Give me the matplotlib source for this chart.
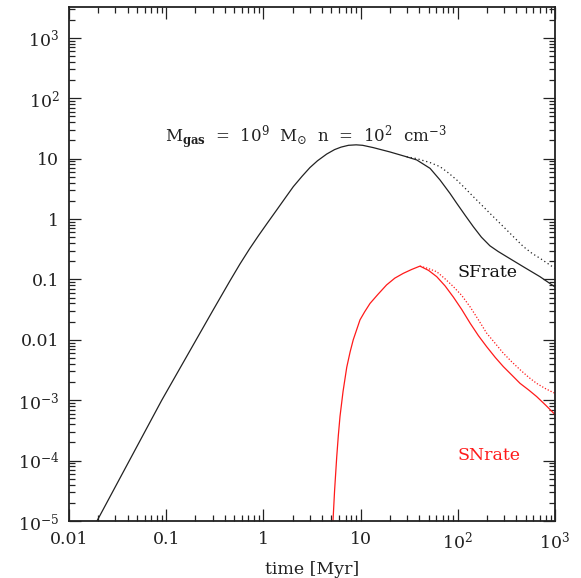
import matplotlib
matplotlib.use('Agg')
import matplotlib.pyplot as plt
from matplotlib.ticker import FixedLocator, FixedFormatter, LogLocator, NullFormatter

plt.rcParams['font.family'] = 'DejaVu Serif'
plt.rcParams['mathtext.fontset'] = 'dejavuserif'

# star formation rate (solid, and dotted variant)
sf_t = [0.0194, 0.09, 0.3, 0.45, 0.574, 0.72, 0.89, 1.1, 1.37, 1.65, 2.03, 2.5, 3.01,
        3.6, 4.48, 5.4, 6.3, 7.5, 9.0, 10.5, 13.5, 20.0, 29.8, 37.8, 51.8, 65.6,
        83.0, 97.5, 120, 144.5, 175, 214, 260, 318, 472, 700, 1000]
sf_y = [1e-5, 1e-3, 0.030, 0.093, 0.18, 0.32, 0.53, 0.86, 1.41, 2.15, 3.43, 5.1,
        7.1, 9.2, 11.9, 14.1, 15.5, 16.6, 16.9, 16.6, 15.2, 12.9, 10.7, 9.5, 6.9,
        4.43, 2.66, 1.82, 1.13, 0.745, 0.50, 0.36, 0.29, 0.238, 0.162, 0.111, 0.075]
sf2_t = [29.8, 37.8, 51.8, 65.6, 80, 97.5, 120, 144.5, 175, 214, 260, 318, 380,
         472, 580, 700, 1000]
sf2_y = [10.7, 10.0, 8.6, 7.35, 5.8, 4.43, 3.18, 2.34, 1.72, 1.24, 0.91, 0.66, 0.495,
         0.35, 0.27, 0.224, 0.152]

# supernova rate (solid, and dotted variant)
sn_t = [5.2, 5.4, 5.68, 5.9, 6.14, 6.6, 7.2, 7.8, 8.4, 9.86, 11, 12.5, 15, 18.5,
        22.5, 27.5, 33.5, 40.8, 50, 60.7, 74, 90, 110, 134, 163, 198, 243, 294,
        360, 437, 535, 647, 800, 1000]
sn_y = [1e-5, 3.2e-5, 1.15e-4, 2.6e-4, 5.4e-4, 1.4e-3, 3.5e-3, 6.3e-3, 0.010,
        0.0214, 0.029, 0.040, 0.056, 0.081, 0.105, 0.126, 0.146, 0.166, 0.141,
        0.111, 0.078, 0.051, 0.0316, 0.0188, 0.0117, 0.0077, 0.0051, 0.0036,
        0.0026, 0.0019, 0.00148, 0.00115, 0.00083, 0.00058]
sn2_t = [40.8, 50, 60.7, 74, 90, 110, 134, 163, 198, 243, 294, 360, 437, 535, 647,
         800, 1000]
sn2_y = [0.166, 0.151, 0.134, 0.102, 0.076, 0.054, 0.035, 0.0214, 0.0129, 0.0087,
         0.006, 0.0043, 0.0032, 0.0024, 0.0019, 0.00155, 0.0013]

yticks = [1e-5, 1e-4, 1e-3, 1e-2, 0.1, 1, 10, 100, 1000]
ylabels = [r'$10^{-5}$', r'$10^{-4}$', r'$10^{-3}$', '0.01', '0.1', '1', '10',
           r'$10^{2}$', r'$10^{3}$']
xticks = [0.01, 0.1, 1, 10, 100, 1000]
xlabels = ['0.01', '0.1', '1', '10', r'$10^{2}$', r'$10^{3}$']

fig = plt.figure(figsize=(5.81, 5.78), dpi=100)
ax = fig.add_axes([69/581, 57/578, 486/581, 514/578])

ax.plot(sf_t, sf_y, color='#222222', lw=0.9)
ax.plot(sf2_t, sf2_y, color='#222222', lw=0.9, ls=(0, (1, 2.2)))
ax.plot(sn_t, sn_y, color='#ff1a1a', lw=0.9)
ax.plot(sn2_t, sn2_y, color='#ff1a1a', lw=0.9, ls=(0, (1, 1.5)))

ax.set_xscale('log')
ax.set_yscale('log')
ax.set_xlim(0.01, 1000)
ax.set_ylim(1e-5, 10**3.51)

ax.yaxis.set_major_locator(FixedLocator(yticks))
ax.yaxis.set_major_formatter(FixedFormatter(ylabels))
ax.xaxis.set_major_locator(FixedLocator(xticks))
ax.xaxis.set_major_formatter(FixedFormatter(xlabels))
ax.xaxis.set_minor_locator(LogLocator(base=10, subs=range(2, 10), numticks=20))
ax.yaxis.set_minor_locator(LogLocator(base=10, subs=range(2, 10), numticks=20))
ax.xaxis.set_minor_formatter(NullFormatter())
ax.yaxis.set_minor_formatter(NullFormatter())

ax.tick_params(which='both', direction='in', top=True, right=True, width=0.9,
               labelsize=12.5, colors='#222222')
ax.tick_params(which='major', length=8.5, pad=7)
ax.tick_params(which='minor', length=4)
for s in ax.spines.values():
    s.set_linewidth(1.3)
    s.set_color('#222222')

ax.set_xlabel('time [Myr]', fontsize=12.5, labelpad=6, color='#222222')

ax.text(0.1975, 0.737,
        r'M$_{\mathbf{gas}}$  =  10$^{9}$  M$_{\odot}$  n  =  10$^{2}$  cm$^{-3}$',
        transform=ax.transAxes, fontsize=12, va='baseline', ha='left', color='#222222')
ax.text(0.8004, 0.484, 'SFrate', transform=ax.transAxes, fontsize=12.5,
        va='center', ha='left', color='#111111')
ax.text(0.8004, 0.128, 'SNrate', transform=ax.transAxes, fontsize=12.5,
        va='center', ha='left', color='#ff1a1a')

fig.savefig('out.png', dpi=100)
